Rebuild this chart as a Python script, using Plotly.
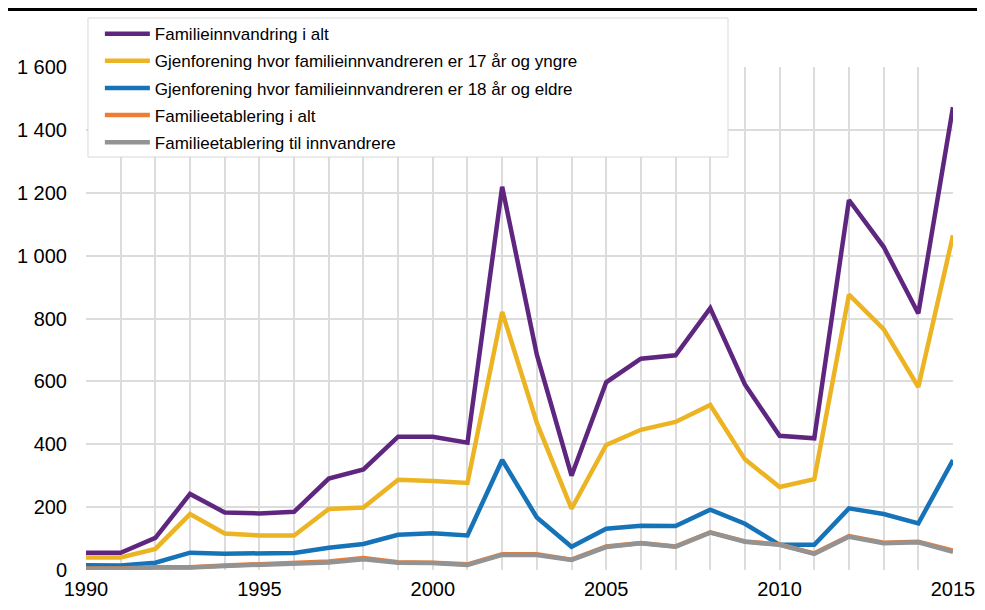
import plotly.graph_objects as go

years = list(range(1990, 2016))

familieinnvandring_i_alt = [55, 55, 102, 242, 183, 180, 185, 291, 320, 424, 424, 405,
                            1219, 685, 300, 597, 672, 683, 833, 590, 427, 419,
                            1177, 1028, 816, 1472]
gjenforening_17_og_yngre = [40, 40, 67, 178, 116, 110, 110, 194, 199, 287, 283, 277,
                            821, 468, 195, 398, 446, 471, 525, 352, 264, 289,
                            876, 766, 582, 1065]
gjenforening_18_og_eldre = [15, 14, 23, 55, 52, 52, 54, 71, 83, 112, 117, 110,
                            350, 167, 74, 131, 141, 140, 192, 147, 80, 80,
                            196, 178, 148, 350]
familieetablering_i_alt = [5, 5, 9, 9, 14, 18, 20, 27, 38, 25, 23, 18,
                           50, 50, 33, 75, 86, 75, 120, 91, 81, 53,
                           108, 87, 90, 62]
familieetablering_innvandrere = [3, 3, 8, 8, 13, 16, 18, 24, 34, 23, 22, 16,
                                 48, 48, 32, 73, 85, 74, 119, 90, 80, 51,
                                 106, 85, 88, 58]

series_names = [
    "Familieinnvandring i alt",
    "Gjenforening hvor familieinnvandreren er 17 år og yngre",
    "Gjenforening hvor familieinnvandreren er 18 år og eldre",
    "Familieetablering i alt",
    "Familieetablering til innvandrere",
]
series_values = [
    familieinnvandring_i_alt,
    gjenforening_17_og_yngre,
    gjenforening_18_og_eldre,
    familieetablering_i_alt,
    familieetablering_innvandrere,
]
colors = ["#5f2680", "#ecb423", "#1673b8", "#ed7d31", "#939393"]

y_tickvals = [0, 200, 400, 600, 800, 1000, 1200, 1400, 1600]
y_ticktext = ["0", "200", "400", "600", "800", "1 000", "1 200", "1 400", "1 600"]
x_tickvals = [1990, 1995, 2000, 2005, 2010, 2015]

fig = go.Figure()

for i, (name, vals, col) in enumerate(zip(series_names, series_values, colors)):
    fig.add_trace(go.Scatter(
        x=years, y=vals, name=name, mode="lines",
        legendgroup=f"g{i}",
        line=dict(color=col, width=4.5),
    ))

grid = "#dcdcdc"

fig.update_xaxes(
    range=[1990, 2015],
    tickvals=x_tickvals,
    showgrid=True, gridcolor=grid, gridwidth=2,
    minor=dict(dtick=1, showgrid=True, gridcolor=grid, gridwidth=2),
    zeroline=False, showline=False,
    ticks="", ticklabelstandoff=5,
)
fig.update_yaxes(
    range=[0, 1600],
    tickvals=y_tickvals, ticktext=y_ticktext,
    showgrid=True, gridcolor=grid, gridwidth=2,
    zeroline=False, showline=False, ticks="", ticklabelstandoff=18,
)

# svart strek øverst
fig.add_shape(type="line", xref="paper", yref="paper",
              x0=-0.1, x1=1.05, y0=1.1143, y1=1.1143,
              line=dict(color="black", width=3))

# ramme rundt tegnforklaringen (bredere enn teksten, som i originalen)
fig.add_shape(type="rect", xref="paper", yref="paper", layer="above",
              x0=0.0023, x1=0.7405, y0=0.8211, y1=1.0974,
              fillcolor="white", line=dict(color="#d9d9d9", width=1))

fig.update_layout(
    width=985, height=610,
    margin=dict(l=78, r=40, t=59, b=48, autoexpand=False),
    plot_bgcolor="white", paper_bgcolor="white",
    font=dict(family="Liberation Sans, Arial, sans-serif", size=20, color="black"),
    legend=dict(
        x=0.016, y=1.101, xanchor="left", yanchor="top",
        bgcolor="rgba(0,0,0,0)", borderwidth=0,
        font=dict(size=17), tracegroupgap=2, itemwidth=45,
    ),
    showlegend=True,
)

fig.write_html("out.html")
